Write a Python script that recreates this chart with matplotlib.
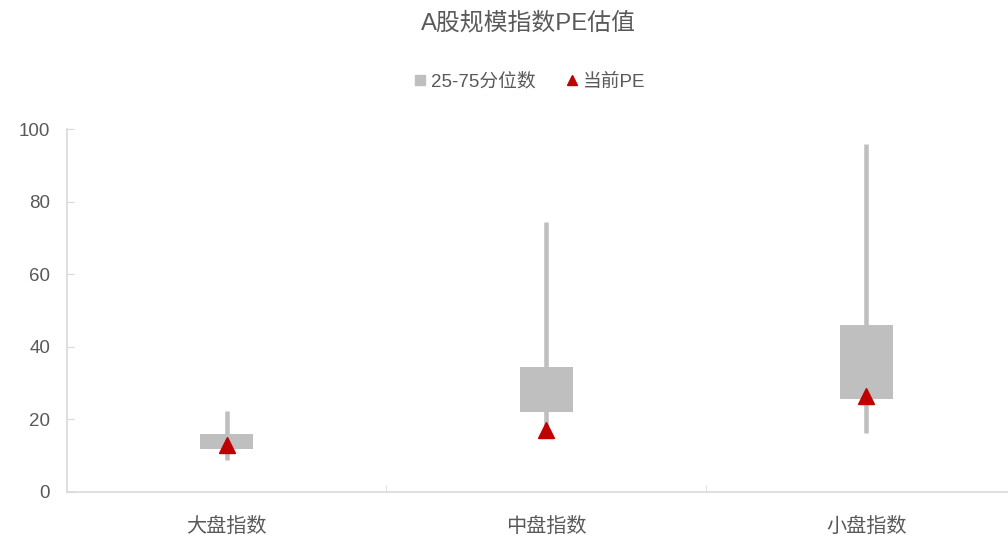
import matplotlib.pyplot as plt
from matplotlib.lines import Line2D
import numpy as np

plt.rcParams['font.family'] = ['Liberation Sans', 'Noto Sans CJK SC', 'DejaVu Sans']

categories = ['大盘指数', '中盘指数', '小盘指数']
pe_max = [22.3, 74.5, 95.9]
pe_min = [8.8, 15.2, 16.3]
q25 = [11.9, 22.1, 25.6]
q75 = [16.0, 34.4, 46.1]
pe_now = [13.0, 17.2, 26.5]

gray = '#BFBFBF'
red = '#C00000'
txt = '#595959'
axc = '#D9D9D9'

fig = plt.figure(figsize=(10.08, 5.35), dpi=100)
ax = fig.add_axes([66.7 / 1008, 1 - 492 / 535, (1026 - 66.7) / 1008, (492 - 129.3) / 535])

x = np.arange(len(categories))
ax.vlines(x, pe_min, pe_max, color=gray, lw=3.3, zorder=1)
ax.bar(x, np.array(q75) - np.array(q25), bottom=q25, width=0.166, color=gray, zorder=2)
ax.plot(x, pe_now, '^', color=red, ms=11.5, zorder=3, linestyle='none')

ax.set_xlim(-0.5, 2.5)
ax.set_ylim(0, 100)
ax.set_yticks([0, 20, 40, 60, 80, 100])
ax.set_xticks(x)
ax.set_xticklabels(categories)
ax.set_xticks([0.5, 1.5], minor=True)

for s in ['top', 'right']:
    ax.spines[s].set_visible(False)
for s in ['left', 'bottom']:
    ax.spines[s].set_color(axc)
    ax.spines[s].set_linewidth(1.2)

ax.tick_params(axis='y', direction='in', length=5, color=axc, labelcolor=txt, labelsize=13.5, pad=12)
ax.tick_params(axis='x', which='major', length=0, labelcolor=txt, labelsize=14.5, pad=18)
ax.tick_params(axis='x', which='minor', direction='in', length=5, color=axc)

fig.text(528 / 1008, 1 - 23 / 535, 'A股规模指数PE估值', ha='center', va='center', fontsize=17.2, color=txt)

handles = [Line2D([], [], marker='s', color=gray, ls='none', ms=7.5),
           Line2D([], [], marker='^', color=red, ls='none', ms=6.5)]
fig.legend(handles, ['25-75分位数', '当前PE'], loc='center', bbox_to_anchor=(530 / 1008, 1 - 82 / 535),
           ncol=2, frameon=False, fontsize=13.5, labelcolor=txt, handlelength=0.6, handletextpad=0.3,
           columnspacing=1.6)

fig.savefig('out.png', dpi=100)
